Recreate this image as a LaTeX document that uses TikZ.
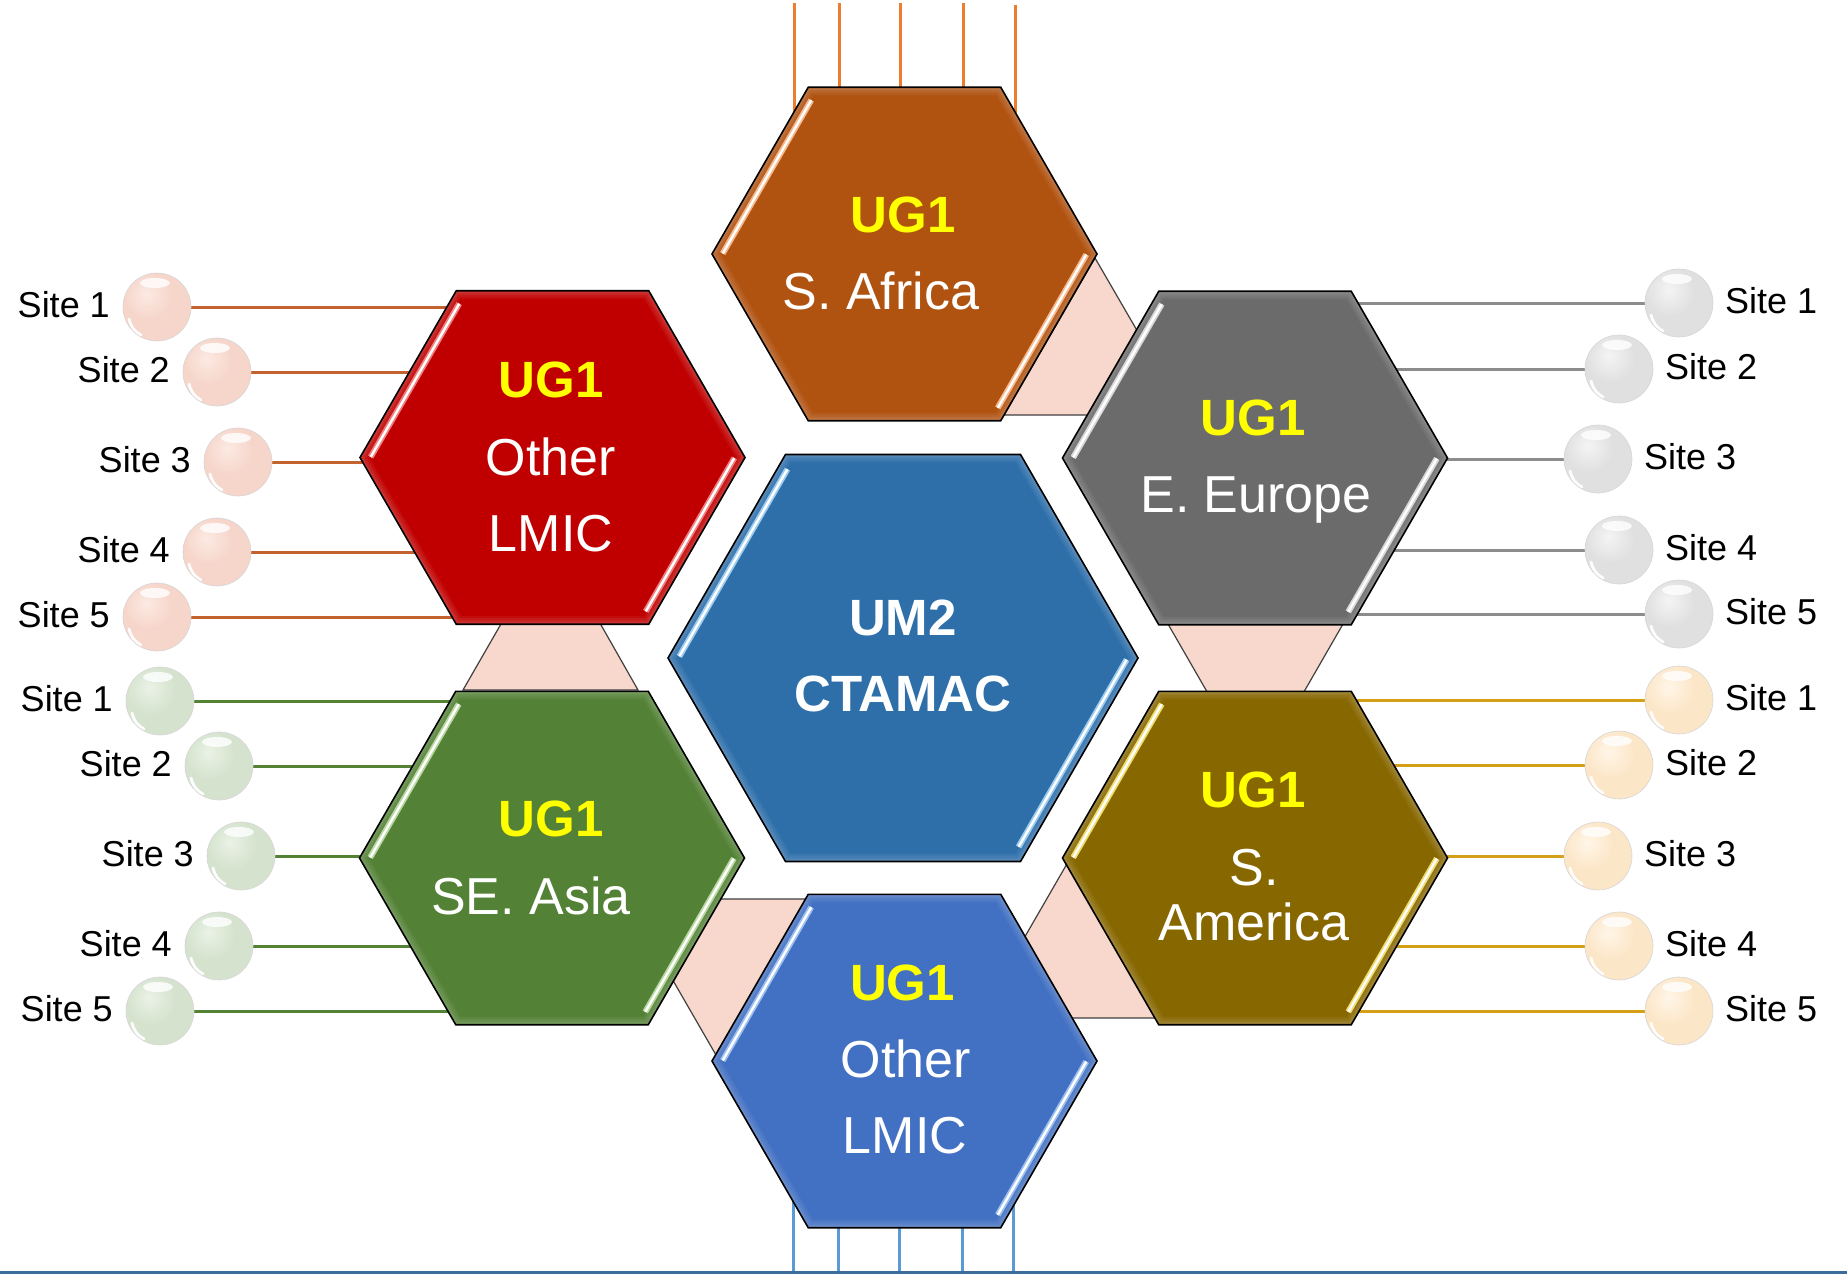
\documentclass[tikz,border=0pt]{standalone}
\usepackage{fontspec}
\setmainfont{Liberation Sans}
\usetikzlibrary{shapes.geometric,calc}
\pgfdeclarelayer{background}
\pgfsetlayers{background,main}

\definecolor{cSA}{HTML}{B05210}
\definecolor{cOL}{HTML}{C00000}
\definecolor{cEE}{HTML}{6B6B6B}
\definecolor{cCM}{HTML}{2E6FAA}
\definecolor{cSE}{HTML}{538135}
\definecolor{cAM}{HTML}{876700}
\definecolor{cBL}{HTML}{4270C2}
\definecolor{sSA}{HTML}{F6B98C}
\definecolor{sOL}{HTML}{F08080}
\definecolor{sEE}{HTML}{D8D8D8}
\definecolor{sCM}{HTML}{9CCCF0}
\definecolor{sSE}{HTML}{B8D8A0}
\definecolor{sAM}{HTML}{F0DC70}
\definecolor{sBL}{HTML}{9CC0F0}
\definecolor{cPink}{HTML}{F8D7CC}
\definecolor{cTri}{HTML}{404040}
\definecolor{lnR}{HTML}{C4622D}
\definecolor{lnE}{HTML}{8C8C8C}
\definecolor{lnG}{HTML}{548235}
\definecolor{lnA}{HTML}{D4A017}
\definecolor{lnTop}{HTML}{ED7D31}
\definecolor{lnBot}{HTML}{5B9BD5}
\definecolor{lnBase}{HTML}{3D6B9A}
\definecolor{ugY}{HTML}{FFFF00}
\definecolor{spPL}{HTML}{FCEAE3}\definecolor{spP}{HTML}{F6D5CA}\definecolor{spPD}{HTML}{EDC2B4}
\definecolor{spGL}{HTML}{EAF2E6}\definecolor{spG}{HTML}{D5E3CE}\definecolor{spGD}{HTML}{C3D6BA}
\definecolor{spEL}{HTML}{F4F4F4}\definecolor{spE}{HTML}{E0E0E0}\definecolor{spED}{HTML}{CACACA}
\definecolor{spAL}{HTML}{FFF6E8}\definecolor{spA}{HTML}{FCE6C8}\definecolor{spAD}{HTML}{F2D3AA}

\pgfdeclareradialshading{shP}{\pgfpoint{-8bp}{10bp}}{color(0bp)=(spPL); color(18bp)=(spP); color(44bp)=(spP); color(58bp)=(spPD); color(100bp)=(spPD)}
\pgfdeclareradialshading{shG}{\pgfpoint{-8bp}{10bp}}{color(0bp)=(spGL); color(18bp)=(spG); color(44bp)=(spG); color(58bp)=(spGD); color(100bp)=(spGD)}
\pgfdeclareradialshading{shE}{\pgfpoint{-8bp}{10bp}}{color(0bp)=(spEL); color(18bp)=(spE); color(44bp)=(spE); color(58bp)=(spED); color(100bp)=(spED)}
\pgfdeclareradialshading{shA}{\pgfpoint{-8bp}{10bp}}{color(0bp)=(spAL); color(18bp)=(spA); color(44bp)=(spA); color(58bp)=(spAD); color(100bp)=(spAD)}

% #1 node name, #2 circumradius, #3 fill colour, #4 stripe colour
\newcommand\hexdeco[4]{%
\begin{scope}[shift={(#1.center)}]
 \pgfmathsetmacro\hR{#2}\pgfmathsetmacro\hr{#2/2}\pgfmathsetmacro\hH{0.866*#2}%
 \pgfmathsetmacro\ax{-\hR+0.03*\hr+7.8}\pgfmathsetmacro\ay{-0.03*\hH+4.5}%
 \pgfmathsetmacro\bx{-\hR+0.95*\hr+7.8}\pgfmathsetmacro\by{-0.95*\hH+4.5}%
 \pgfmathsetmacro\cx{-(\ax)}\pgfmathsetmacro\cy{-(\ay)}%
 \pgfmathsetmacro\dx{-(\bx)}\pgfmathsetmacro\dy{-(\by)}%
 \fill[#3] (-\hR,0) -- (-\hr,-\hH) -- (\hr,-\hH) -- (\hR,0) -- (\hr,\hH) -- (-\hr,\hH) -- cycle;
 \begin{scope}
  \clip (-\hR,0) -- (-\hr,-\hH) -- (\hr,-\hH) -- (\hR,0) -- (\hr,\hH) -- (-\hr,\hH) -- cycle;
  \foreach \w in {16,12,8,5,3}{
   \draw[white, opacity=.05, line width=\w pt, line join=miter] (-\hR,0) -- (-\hr,-\hH) -- (\hr,-\hH) -- (\hR,0) -- (\hr,\hH) -- (-\hr,\hH) -- cycle;
  }
 \end{scope}
 \draw[#4, line width=6pt] (\ax,\ay) -- (\bx,\by);
 \draw[white, line width=2.4pt] (\ax,\ay) -- (\bx,\by);
 \draw[#4, line width=6pt] (\cx,\cy) -- (\dx,\dy);
 \draw[white, line width=2.4pt] (\cx,\cy) -- (\dx,\dy);
 \draw[black, line width=1.6pt, line join=miter] (-\hR,0) -- (-\hr,-\hH) -- (\hr,-\hH) -- (\hR,0) -- (\hr,\hH) -- (-\hr,\hH) -- cycle;
\end{scope}}

\tikzset{
 hexnode/.style={regular polygon, regular polygon sides=6, inner sep=0pt, outer sep=0pt},
 sphbase/.style={circle, minimum size=68pt, inner sep=0pt, outer sep=0pt, shade, draw=black!16, line width=0.6pt,
   path picture={
     \fill[white, opacity=.8, shift={(path picture bounding box.center)}] (-2,-24) ellipse [x radius=15, y radius=5];
     \draw[white, line width=2.8pt, line cap=round, opacity=.95, shift={(path picture bounding box.center)}] (-28,12) .. controls (-26,20) and (-22,25) .. (-16,28);
   }},
 sphP/.style={sphbase, shading=shP},
 sphG/.style={sphbase, shading=shG},
 sphE/.style={sphbase, shading=shE},
 sphA/.style={sphbase, shading=shA},
 sitelbl/.style={font=\fontsize{36}{40}\selectfont, inner sep=0pt, text=black},
 ugt/.style={font=\bfseries\fontsize{51}{56}\selectfont, text=ugY, inner sep=0pt, anchor=base},
 cmt/.style={font=\bfseries\fontsize{51}{56}\selectfont, text=white, inner sep=0pt, anchor=base},
 hname/.style={font=\fontsize{52}{58}\selectfont, text=white, inner sep=0pt, anchor=base},
 siteline/.style={line width=3pt},
 tri/.style={fill=cPink, draw=cTri, line width=1.2pt, line join=miter}
}

\begin{document}
\begin{tikzpicture}[x=1pt,y=-1pt]
\useasboundingbox (0,0) rectangle (1847,1274);
\begin{pgfonlayer}{background}
 \fill[white] (0,0) rectangle (1847,1274);
\end{pgfonlayer}

% hexagons
\node[hexnode, minimum size=385pt] (sa) at (904.5,254) {};
\node[hexnode, minimum size=385pt] (ol) at (552.5,457.5) {};
\node[hexnode, minimum size=385pt] (ee) at (1255,458) {};
\node[hexnode, minimum size=470pt] (cm) at (903,658) {};
\node[hexnode, minimum size=385pt] (se) at (552,858) {};
\node[hexnode, minimum size=385pt] (am) at (1255,858) {};
\node[hexnode, minimum size=385pt] (bl) at (904.5,1061) {};

% pink links (behind)
\begin{pgfonlayer}{background}
 \draw[tri] (1095,258) -- (1004,415) -- (1186,415) -- cycle;
 \draw[tri] (1168,624) -- (1343,624) -- (1255.5,776) -- cycle;
 \draw[tri] (1068,862) -- (978,1018) -- (1158,1018) -- cycle;
 \draw[tri] (626,899) -- (806,899) -- (716,1055) -- cycle;
 \draw[tri] (551,537) -- (463,690) -- (638,690) -- cycle;
\end{pgfonlayer}

\hexdeco{sa}{192.5}{cSA}{sSA}
\hexdeco{ol}{192.5}{cOL}{sOL}
\hexdeco{ee}{192.5}{cEE}{sEE}
\hexdeco{cm}{235}{cCM}{sCM}
\hexdeco{se}{192.5}{cSE}{sSE}
\hexdeco{am}{192.5}{cAM}{sAM}
\hexdeco{bl}{192.5}{cBL}{sBL}

% hexagon texts
\node[ugt] (saU) at (903,232) {UG1};
\node[hname] (saN) at (881,309.6) {S. Africa};
\node[ugt] (olU) at (551,397.5) {UG1};
\node[hname] (olN1) at (551,475) {Other};
\node[hname] (olN2) at (551,551.5) {LMIC};
\node[ugt] (eeU) at (1253,435) {UG1};
\node[hname] (eeN) at (1256,512.6) {E. Europe};
\node[cmt] (cmU) at (903,635.6) {UM2};
\node[cmt] (cmN) at (903,711.1) {CTAMAC};
\node[ugt] (seU) at (551,836) {UG1};
\node[hname] (seN) at (531,914) {SE. Asia};
\node[ugt] (amU) at (1253,807) {UG1};
\node[hname] (amN1) at (1254,885.6) {S.};
\node[hname] (amN2) at (1254,940.6) {America};
\node[ugt] (blU) at (902.5,1000) {UG1};
\node[hname] (blN1) at (906,1077.6) {Other};
\node[hname] (blN2) at (905,1153.6) {LMIC};

% site spheres and labels
\foreach \n/\x/\y in {1/157/307,2/217/372,3/238/462,4/217/552,5/157/617}{
 \node[sphP] (r\n) at (\x,\y) {};
 \node[sitelbl, anchor=base east] (rl\n) at ($(r\n)+(-47,10)$) {Site \n};
}
\foreach \n/\x/\y in {1/160/701,2/219/766,3/241/856,4/219/946,5/160/1011}{
 \node[sphG] (g\n) at (\x,\y) {};
 \node[sitelbl, anchor=base east] (gl\n) at ($(g\n)+(-47,10)$) {Site \n};
}
\foreach \n/\x/\y in {1/1679/303,2/1619/369,3/1598/459,4/1619/550,5/1679/614}{
 \node[sphE] (e\n) at (\x,\y) {};
 \node[sitelbl, anchor=base west] (el\n) at ($(e\n)+(46,10)$) {Site \n};
}
\foreach \n/\x/\y in {1/1679/700,2/1619/765,3/1598/856,4/1619/946,5/1679/1011}{
 \node[sphA] (a\n) at (\x,\y) {};
 \node[sitelbl, anchor=base west] (al\n) at ($(a\n)+(46,10)$) {Site \n};
}

% top and bottom free ends
\coordinate (t1) at (794,3); \coordinate (t2) at (839,3); \coordinate (t3) at (900,3);
\coordinate (t4) at (963,3); \coordinate (t5) at (1015,5);
\coordinate (b1) at (793,1274); \coordinate (b2) at (838.5,1274); \coordinate (b3) at (899,1274);
\coordinate (b4) at (962,1274); \coordinate (b5) at (1013.5,1274);
\coordinate (bs0) at (0,1272.5); \coordinate (bs1) at (1847,1272.5);

% connectors (behind shapes)
\begin{pgfonlayer}{background}
 \foreach \n in {1,...,5}{
  \draw[siteline, lnR] (r\n.east) -- (r\n.east -| ol.center);
  \draw[siteline, lnG] (g\n.east) -- (g\n.east -| se.center);
  \draw[siteline, lnE] (e\n.west) -- (e\n.west -| ee.center);
  \draw[siteline, lnA] (a\n.west) -- (a\n.west -| am.center);
  \draw[siteline, lnTop] (t\n) -- (t\n |- sa.center);
  \draw[siteline, lnBot] (b\n) -- (b\n |- bl.center);
 }
\end{pgfonlayer}
\draw[lnBase, line width=3pt] (bs0) -- (bs1);
\end{tikzpicture}
\end{document}
